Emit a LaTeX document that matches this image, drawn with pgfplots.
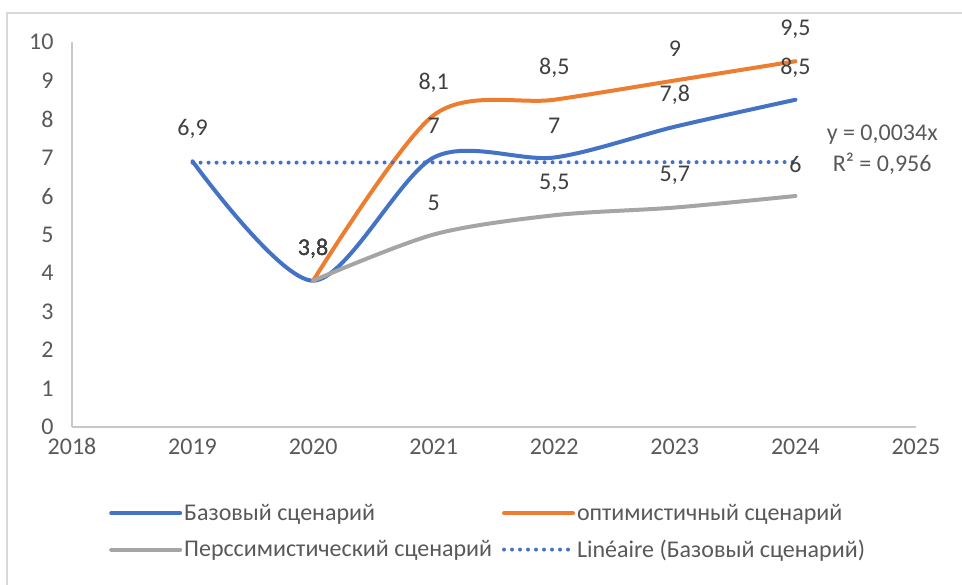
\documentclass[border=0pt]{standalone}
\usepackage{pgfplots}
\pgfplotsset{compat=1.18}
\usepackage{pgfplotstable}
\usepackage{fontspec}
\setmainfont{Carlito}
\definecolor{cblue}{HTML}{4472C4}
\definecolor{corange}{HTML}{ED7D31}
\definecolor{cgray}{HTML}{A5A5A5}
\definecolor{axgray}{HTML}{C8C8C8}
\definecolor{tickgray}{HTML}{595959}
\definecolor{labgray}{HTML}{404040}
\definecolor{framegray}{HTML}{D9D9D9}
\newcommand\bigf{\fontsize{24}{29}\selectfont}

\pgfplotstableread{
x y lab
2019 6.9 6,9
2020 3.8 3,8
2021 7 7
2022 7 7
2023 7.8 7,8
2024 8.5 8,5
}\base
\pgfplotstableread{
x y lab
2020 3.8 3,8
2021 8.1 8,1
2022 8.5 8,5
2023 9 9
2024 9.5 9,5
}\opt
\pgfplotstableread{
x y lab
2020 3.8 3,8
2021 5 5
2022 5.5 5,5
2023 5.7 5,7
2024 6 6
}\pess
\pgfplotstableread{
x y
2019 6.8646
2024 6.8816
}\trend

\begin{document}
\begin{tikzpicture}[x=1pt,y=1pt]
\useasboundingbox (0,0) rectangle (962,585);
\draw[framegray, line width=1.5pt] (7,-5) -- (7,572) -- (970,572);
\begin{axis}[
  at={(72pt,158pt)}, anchor=south west,
  scale only axis, width=844pt, height=385pt,
  xmin=2018, xmax=2025, ymin=0, ymax=10,
  xtick={2018,2019,...,2025}, ytick={0,1,...,10},
  axis x line=bottom, axis y line=left,
  axis line style={axgray, line width=1.5pt, -},
  major tick length=0pt,
  /pgf/number format/1000 sep={},
  /pgf/number format/assume math mode=true,
  scaled ticks=false,
  tick label style={font=\bigf, text=tickgray},
  xticklabel style={yshift=-8pt},
  yticklabel style={xshift=-15pt},
  clip=false,
  legend columns=2,
  legend cell align=left,
  legend style={at={(axis description cs:0.0403,-0.19)}, anchor=north west,
    draw=none, fill=none, font=\bigf, text=tickgray,
    /tikz/every even column/.append style={column sep=8pt},
    /tikz/row sep=14pt},
  legend image code/.code={\draw[#1] (0pt,0pt) -- (69pt,0pt);},
  every node near coord/.append style={anchor=center, yshift=32pt, font=\bigf, text=labgray},
]
\addplot[cblue, line width=4pt, line cap=round, smooth, tension=0.5,
  nodes near coords, point meta=explicit symbolic]
  table[x=x, y=y, meta=lab]{\base};
\addlegendentry{Базовый сценарий}
\addplot[corange, line width=4pt, line cap=round, smooth, tension=0.5,
  nodes near coords, point meta=explicit symbolic]
  table[x=x, y=y, meta=lab]{\opt};
\addlegendentry{оптимистичный сценарий}
\addplot[cgray, line width=4pt, line cap=round, smooth, tension=0.5,
  nodes near coords, point meta=explicit symbolic]
  table[x=x, y=y, meta=lab]{\pess};
\addlegendentry{Перссимистический сценарий}
\addplot[cblue, line width=4pt, line cap=round, dash pattern=on 0pt off 8pt]
  table[x=x, y=y]{\trend};
\addlegendentry{Linéaire (Базовый сценарий)}
\node[font=\bigf, text=tickgray, align=center, inner sep=0pt] at (axis cs:2024.72,7.2)
  {y = 0,0034x\\[2pt]R² = 0,956};
\end{axis}
\end{tikzpicture}
\end{document}
